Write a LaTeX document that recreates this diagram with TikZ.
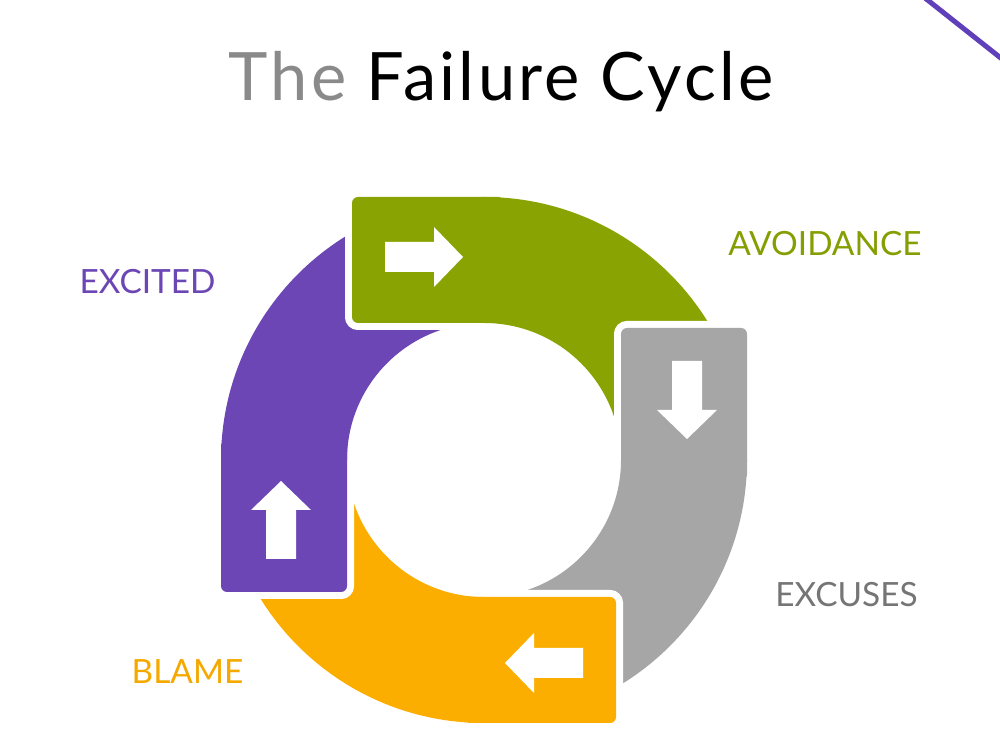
\documentclass[tikz,border=0pt]{standalone}
\usepackage{fontspec}
\setmainfont{Lato}

\definecolor{avoidgreen}{RGB}{137,164,2}
\definecolor{excusegray}{RGB}{165,166,165}
\definecolor{blameorange}{RGB}{252,174,0}
\definecolor{excitepurple}{RGB}{107,70,180}
\definecolor{titlegray}{RGB}{138,138,138}

\tikzset{
  gap line/.style={draw=white, line width=0.28cm, rounded corners=0.12cm},
}
% one quarter of the ring, turned by #1
\newcommand{\ringpart}[2]{
    \begin{scope}[shift={(484,290)}, rotate=#1]
        \fill[#2] (90:263) arc[start angle=90, end angle=0, radius=263]
            -- (0:137) arc[start angle=0, end angle=90, radius=137] -- cycle;
    \end{scope}
}
% the square tab where a quarter starts, with its white arrow
\newcommand{\ringtab}[2]{
    \begin{scope}[shift={(484,290)}, rotate=#1]
        \draw[gap line] (0,137) -- (-132,137) -- (-132,263) -- (0,263);
        \fill[#2, rounded corners=0.12cm] (20,137) rectangle (-132,263);
        \fill[white] (-99,188) -- (-50,188) -- (-50,173) -- (-21,203)
            -- (-50,233) -- (-50,218) -- (-99,218) -- cycle;
    \end{scope}
}

\begin{document}
\begin{tikzpicture}[x=0.02cm, y=0.02cm]
        \tikzstyle{stage}=[anchor=base, inner sep=0pt, font=\fontsize{19}{22}\selectfont]
        \useasboundingbox (0,0) rectangle (1000,750);

        \node[anchor=base, inner sep=0pt, font=\fontsize{38}{44}\selectfont\addfontfeature{LetterSpace=5}] (title) at (501,649)
            {{\color{titlegray}The} Failure Cycle};

        \foreach \ang/\col in {0/avoidgreen, -90/excusegray, -180/blameorange, -270/excitepurple}
            \ringpart{\ang}{\col};
        \foreach \ang/\col in {0/avoidgreen, -90/excusegray, -180/blameorange, -270/excitepurple}
            \ringtab{\ang}{\col};

        \node[stage, text=avoidgreen!97!black] (avoidance) at (825,494) {AVOIDANCE};
        \node[stage, text=excitepurple] (excited) at (147.5,456) {EXCITED};
        \node[stage, text=black!54] (excuses) at (846.5,143) {EXCUSES};
        \node[stage, text=blameorange!97!black] (blame) at (187.5,66) {BLAME};

        \draw[excitepurple!90!blue, line width=0.1cm] (925,752) -- (1002,691);
\end{tikzpicture}
\end{document}
